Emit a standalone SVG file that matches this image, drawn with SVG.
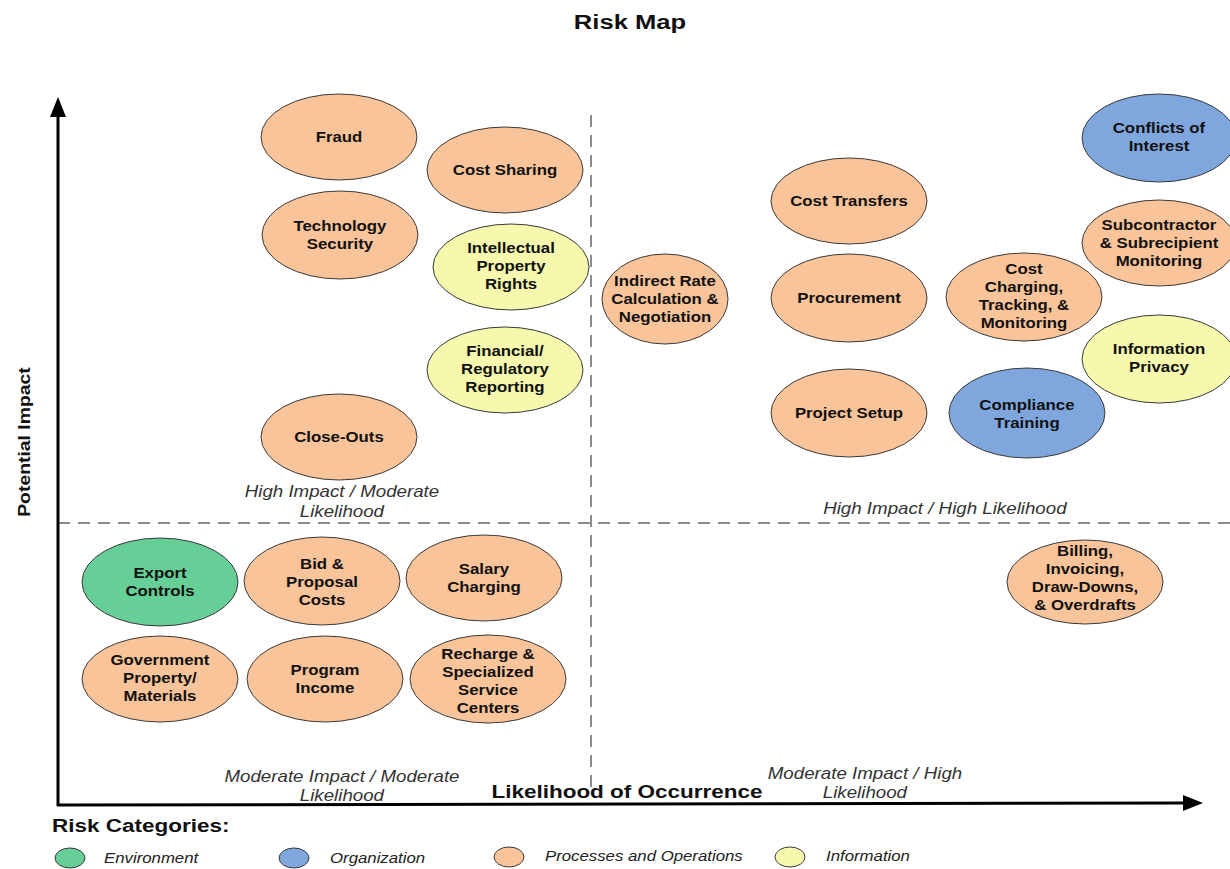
<svg xmlns="http://www.w3.org/2000/svg" width="1230" height="869" viewBox="0 0 1230 869">
  <defs>
    <marker id="arrow" viewBox="0 0 20 16" refX="2" refY="8" markerWidth="20" markerHeight="16" markerUnits="userSpaceOnUse" orient="auto">
      <path d="M0,0 L20,8 L0,16 Z" fill="#000"/>
    </marker>
  </defs>
  <style>
    text { font-family: "Liberation Sans", Arial, sans-serif; transform-box: fill-box; }
    .wide { transform-origin: center; }
    .node ellipse { stroke: #3a3a3a; stroke-width: 1; }
    .node text { font-size: 14px; font-weight: bold; fill: #111; text-anchor: middle; transform-origin: center; transform: scaleX(1.2); }
    .proc { fill: #F9C49A; }
    .info { fill: #F6F8AE; }
    .org { fill: #7FA7DD; }
    .env { fill: #66CE97; }
    .axis { stroke: #000; stroke-width: 3; fill: none; }
    .divider { stroke: #666; stroke-width: 1.5; stroke-dasharray: 12 8; fill: none; }
    .quad { font-size: 16px; font-style: italic; fill: #333; text-anchor: middle; transform-origin: center; transform: scaleX(1.17); }
    .legend { font-size: 15px; font-style: italic; fill: #222; transform-origin: left center; transform: scaleX(1.12); }
    .legend-dot { stroke: #3a3a3a; stroke-width: 1; }
  </style>

  <rect width="1230" height="869" fill="#fff"/>

  <!-- title -->
  <text x="630" y="29" font-size="20" font-weight="bold" text-anchor="middle" fill="#111" style="transform-origin: center; transform: scaleX(1.28);">Risk Map</text>

  <!-- axes and quadrant dividers -->
  <g id="connectors">
    <line class="divider" x1="591" y1="115" x2="591" y2="792"/>
    <line class="divider" x1="58" y1="523" x2="1230" y2="523"/>
    <line class="axis" x1="58" y1="806" x2="58" y2="115" marker-end="url(#arrow)"/>
    <line class="axis" x1="57" y1="805" x2="1185" y2="803" marker-end="url(#arrow)"/>
  </g>

  <!-- axis titles -->
  <g transform="translate(30,442) rotate(-90)">
    <text x="0" y="0" font-size="17" font-weight="bold" text-anchor="middle" fill="#111" style="transform-origin: center; transform: scaleX(1.14);">Potential Impact</text>
  </g>
  <text x="627" y="798" font-size="18" font-weight="bold" text-anchor="middle" fill="#111" style="transform-origin: center; transform: scaleX(1.25);">Likelihood of Occurrence</text>

  <!-- quadrant captions -->
  <text class="quad" x="342" y="497">High Impact / Moderate</text>
  <text class="quad" x="342" y="517">Likelihood</text>
  <text class="quad" x="945" y="514">High Impact / High Likelihood</text>
  <text class="quad" x="342" y="782">Moderate Impact / Moderate</text>
  <text class="quad" x="342" y="801">Likelihood</text>
  <text class="quad" x="865" y="779">Moderate Impact / High</text>
  <text class="quad" x="865" y="798">Likelihood</text>

  <!-- high impact / moderate likelihood -->
  <g id="fraud" class="node">
    <ellipse class="proc" cx="339" cy="137" rx="78" ry="43"/>
    <text x="339" y="142">Fraud</text>
  </g>
  <g id="cost-sharing" class="node">
    <ellipse class="proc" cx="505" cy="170" rx="78" ry="43"/>
    <text x="505" y="175">Cost Sharing</text>
  </g>
  <g id="technology-security" class="node">
    <ellipse class="proc" cx="340" cy="235" rx="78" ry="44"/>
    <text x="340" y="231">Technology</text>
    <text x="340" y="249">Security</text>
  </g>
  <g id="intellectual-property" class="node">
    <ellipse class="info" cx="511" cy="267" rx="78" ry="43"/>
    <text x="511" y="253">Intellectual</text>
    <text x="511" y="271">Property</text>
    <text x="511" y="289">Rights</text>
  </g>
  <g id="financial-reporting" class="node">
    <ellipse class="info" cx="505" cy="370" rx="78" ry="43"/>
    <text x="505" y="356">Financial/</text>
    <text x="505" y="374">Regulatory</text>
    <text x="505" y="392">Reporting</text>
  </g>
  <g id="close-outs" class="node">
    <ellipse class="proc" cx="339" cy="437" rx="78" ry="43"/>
    <text x="339" y="442">Close-Outs</text>
  </g>

  <!-- high impact / high likelihood -->
  <g id="indirect-rate" class="node">
    <ellipse class="proc" cx="665" cy="299" rx="63" ry="45"/>
    <text x="665" y="286">Indirect Rate</text>
    <text x="665" y="304">Calculation &amp;</text>
    <text x="665" y="322">Negotiation</text>
  </g>
  <g id="cost-transfers" class="node">
    <ellipse class="proc" cx="849" cy="201" rx="78" ry="43"/>
    <text x="849" y="206">Cost Transfers</text>
  </g>
  <g id="procurement" class="node">
    <ellipse class="proc" cx="849" cy="298" rx="78" ry="44"/>
    <text x="849" y="303">Procurement</text>
  </g>
  <g id="project-setup" class="node">
    <ellipse class="proc" cx="849" cy="413" rx="78" ry="44"/>
    <text x="849" y="418">Project Setup</text>
  </g>
  <g id="cost-charging" class="node">
    <ellipse class="proc" cx="1024" cy="297" rx="78" ry="44"/>
    <text x="1024" y="274">Cost</text>
    <text x="1024" y="292">Charging,</text>
    <text x="1024" y="310">Tracking, &amp;</text>
    <text x="1024" y="328">Monitoring</text>
  </g>
  <g id="compliance-training" class="node">
    <ellipse class="org" cx="1027" cy="413" rx="78" ry="45"/>
    <text x="1027" y="410">Compliance</text>
    <text x="1027" y="428">Training</text>
  </g>
  <g id="conflicts-of-interest" class="node">
    <ellipse class="org" cx="1159" cy="138" rx="77" ry="44"/>
    <text x="1159" y="133">Conflicts of</text>
    <text x="1159" y="151">Interest</text>
  </g>
  <g id="subcontractor-monitoring" class="node">
    <ellipse class="proc" cx="1159" cy="243" rx="77" ry="43"/>
    <text x="1159" y="230">Subcontractor</text>
    <text x="1159" y="248">&amp; Subrecipient</text>
    <text x="1159" y="266">Monitoring</text>
  </g>
  <g id="information-privacy" class="node">
    <ellipse class="info" cx="1159" cy="359" rx="77" ry="44"/>
    <text x="1159" y="354">Information</text>
    <text x="1159" y="372">Privacy</text>
  </g>

  <!-- moderate impact / high likelihood -->
  <g id="billing" class="node">
    <ellipse class="proc" cx="1085" cy="582" rx="78" ry="42"/>
    <text x="1085" y="556">Billing,</text>
    <text x="1085" y="574">Invoicing,</text>
    <text x="1085" y="592">Draw-Downs,</text>
    <text x="1085" y="610">&amp; Overdrafts</text>
  </g>

  <!-- moderate impact / moderate likelihood -->
  <g id="export-controls" class="node">
    <ellipse class="env" cx="160" cy="582" rx="78" ry="44"/>
    <text x="160" y="578">Export</text>
    <text x="160" y="596">Controls</text>
  </g>
  <g id="bid-proposal" class="node">
    <ellipse class="proc" cx="322" cy="581" rx="78" ry="44"/>
    <text x="322" y="569">Bid &amp;</text>
    <text x="322" y="587">Proposal</text>
    <text x="322" y="605">Costs</text>
  </g>
  <g id="salary-charging" class="node">
    <ellipse class="proc" cx="484" cy="578" rx="78" ry="43"/>
    <text x="484" y="574">Salary</text>
    <text x="484" y="592">Charging</text>
  </g>
  <g id="government-property" class="node">
    <ellipse class="proc" cx="160" cy="679" rx="78" ry="43"/>
    <text x="160" y="665">Government</text>
    <text x="160" y="683">Property/</text>
    <text x="160" y="701">Materials</text>
  </g>
  <g id="program-income" class="node">
    <ellipse class="proc" cx="325" cy="679" rx="78" ry="43"/>
    <text x="325" y="675">Program</text>
    <text x="325" y="693">Income</text>
  </g>
  <g id="recharge-centers" class="node">
    <ellipse class="proc" cx="488" cy="679" rx="78" ry="44"/>
    <text x="488" y="659">Recharge &amp;</text>
    <text x="488" y="677">Specialized</text>
    <text x="488" y="695">Service</text>
    <text x="488" y="713">Centers</text>
  </g>

  <!-- legend -->
  <g id="legend">
    <text x="52" y="832" font-size="18" font-weight="bold" fill="#111" style="transform-origin: left center; transform: scaleX(1.25);">Risk Categories:</text>
    <ellipse class="legend-dot env" cx="70" cy="858" rx="15" ry="10"/>
    <text class="legend" x="104" y="863">Environment</text>
    <ellipse class="legend-dot org" cx="294" cy="858" rx="15" ry="10"/>
    <text class="legend" x="330" y="863">Organization</text>
    <ellipse class="legend-dot proc" cx="509" cy="857" rx="15" ry="10"/>
    <text class="legend" x="545" y="861">Processes and Operations</text>
    <ellipse class="legend-dot info" cx="790" cy="857" rx="15" ry="10"/>
    <text class="legend" x="826" y="861">Information</text>
  </g>
</svg>
